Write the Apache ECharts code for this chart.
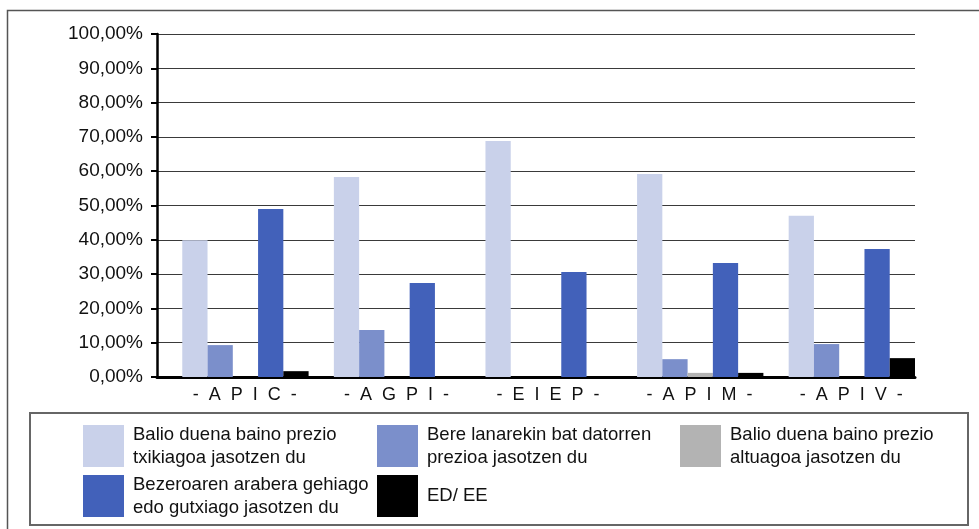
<!DOCTYPE html>
<html>
<head>
<meta charset="utf-8">
<script src="https://cdn.jsdelivr.net/npm/echarts@6/dist/echarts.min.js"></script>
<style>
  html, body { margin: 0; padding: 0; background: #fff; overflow: hidden; }
  #chart { width: 979px; height: 529px; }
</style>
</head>
<body>
<div id="chart"></div>
<script>
// categories (x axis)
const categories = ['-  A  P  I  C  -', '-  A  G  P  I  -', '-  E  I  E  P  -', '-  A  P  I  M  -', '-  A  P  I  V  -']

// series names
const names = [
  'Balio duena baino prezio\ntxikiagoa jasotzen du',
  'Bere lanarekin bat datorren\nprezioa jasotzen du',
  'Balio duena baino prezio\naltuagoa jasotzen du',
  'Bezeroaren arabera gehiago\nedo gutxiago jasotzen du',
  'ED/ EE'
]

// values in %
const txikiagoa = [39.9, 58.3, 68.8, 59.2, 47.0]
const batDator = [9.3, 13.7, 0, 5.2, 9.6]
const altuagoa = [0, 0, 0, 1.2, 0]
const bezeroa = [49.0, 27.4, 30.6, 33.2, 37.3]
const edEe = [1.7, 0, 0, 1.2, 5.5]

const colors = ['#C9D1EA', '#7B8FCB', '#B3B3B3', '#4261BA', '#000000']

const sans = "'Liberation Sans', Arial, sans-serif"

const myChart = echarts.init(document.getElementById('chart'))

// one legend per item, placed like the original box
const legendPos = [
  { left: 83, top: 423 },
  { left: 377, top: 423 },
  { left: 680, top: 423 },
  { left: 83, top: 473 },
  { left: 377, top: 475 },
]

const legends = names.map((n, i) => ({
  data: [n],
  left: legendPos[i].left,
  top: legendPos[i].top,
  padding: 0,
  icon: 'rect',
  itemWidth: 41,
  itemHeight: 42,
  selectedMode: false,
  textStyle: {
    fontFamily: sans,
    fontSize: 18.5,
    lineHeight: 23,
    color: '#111',
    padding: [0, 0, 0, 4],
  },
}))

const seriesData = [txikiagoa, batDator, altuagoa, bezeroa, edEe]

const series = [
  // empty slot at the start of every group (the chart leaves it blank)
  { name: 'hutsa', type: 'bar', data: categories.map(() => null), silent: true },
].concat(seriesData.map((d, i) => ({
  name: names[i],
  type: 'bar',
  data: d,
  itemStyle: { color: colors[i] },
})))

series.forEach(s => {
  s.barGap = '0%'
  s.barCategoryGap = '0%'
})

myChart.setOption({
  animation: false,
  color: ['#fff'].concat(colors),
  legend: legends,
  grid: {
    left: 157,
    right: 64,
    top: 34,
    bottom: 152,
  },
  xAxis: {
    type: 'category',
    data: categories,
    axisLine: { show: true, lineStyle: { color: '#000', width: 3 } },
    axisTick: { show: false },
    axisLabel: {
      interval: 0,
      fontFamily: sans,
      fontSize: 18,
      color: '#111',
      margin: 9,
      padding: [0, 0, 0, 24],
    },
  },
  yAxis: {
    type: 'value',
    min: 0,
    max: 100,
    interval: 10,
    axisLine: { show: true, lineStyle: { color: '#000', width: 2.5 } },
    axisTick: { show: true, inside: false, length: 6, lineStyle: { color: '#000', width: 2 } },
    splitLine: { show: true, lineStyle: { color: '#3a3a3a', width: 1.2 } },
    axisLabel: {
      fontFamily: sans,
      fontSize: 19,
      color: '#111',
      margin: 14,
      formatter: v => v.toFixed(2).replace('.', ',') + '%',
    },
  },
  graphic: [
    {
      type: 'rect',
      shape: { x: 7.5, y: 10.5, width: 1040, height: 600 },
      style: { fill: null, stroke: '#555', lineWidth: 1.5 },
      silent: true,
    },
    {
      type: 'rect',
      shape: { x: 30, y: 413, width: 938, height: 112 },
      style: { fill: null, stroke: '#666', lineWidth: 2 },
      silent: true,
    },
  ],
  series: series,
})
</script>
</body>
</html>
